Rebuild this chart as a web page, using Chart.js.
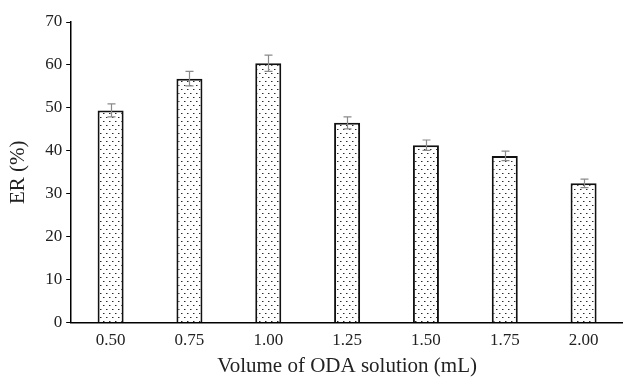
<!DOCTYPE html>
<html lang="en">
<head>
  <meta charset="UTF-8" />
  <title>ER vs ODA volume</title>
  <script src="https://cdn.jsdelivr.net/npm/chart.js"></script>
  <style>
    html, body {
      margin: 0;
      background: #fff;
    }
    #wrap {
      width: 623px;
      height: 379px;
    }
  </style>
</head>
<body>

<div id="wrap"><canvas id="erChart" width="623" height="379"></canvas></div>

<script>
  const volumes = ['0.50', '0.75', '1.00', '1.25', '1.50', '1.75', '2.00'];
  const erValues = [49.4, 56.8, 60.4, 46.5, 41.3, 38.8, 32.4];
  const erErrors = [1.5, 1.7, 1.9, 1.4, 1.2, 1.1, 1.0];
  const yTicks = [0, 10, 20, 30, 40, 50, 60, 70];

  // dotted fill like the printed figure
  function dotPattern() {
    const c = document.createElement('canvas');
    c.width = 6;
    c.height = 8;
    const g = c.getContext('2d');
    g.fillStyle = '#fff';
    g.fillRect(0, 0, 6, 8);
    g.fillStyle = '#2a2a2a';
    g.fillRect(1, 1, 1, 1);
    g.fillRect(4, 5, 1, 1);
    g.fillStyle = '#999';
    g.fillRect(2, 1, 1, 1);
    g.fillRect(5, 5, 1, 1);
    return g.createPattern(c, 'repeat');
  }

  const errorBars = {
    id: 'errorBars',
    afterDatasetsDraw(chart) {
      const ctx = chart.ctx;
      const y = chart.scales.y;
      const meta = chart.getDatasetMeta(0);
      ctx.save();
      ctx.strokeStyle = '#8a8a8a';
      ctx.lineWidth = 1.2;
      meta.data.forEach((bar, i) => {
        const x = Math.round(bar.x) + 0.5;
        const top = y.getPixelForValue(erValues[i] + erErrors[i]);
        const bot = y.getPixelForValue(erValues[i] - erErrors[i]);
        ctx.beginPath();
        ctx.moveTo(x, top);
        ctx.lineTo(x, bot);
        ctx.moveTo(x - 4, top);
        ctx.lineTo(x + 4, top);
        ctx.moveTo(x - 4, bot);
        ctx.lineTo(x + 4, bot);
        ctx.stroke();
      });
      ctx.restore();
    }
  };

  const serif = 'Liberation Serif, Times New Roman, serif';

  new Chart(document.getElementById('erChart'), {
    type: 'bar',
    data: {
      labels: volumes,
      datasets: [{
        label: 'ER',
        data: erValues,
        backgroundColor: dotPattern(),
        borderColor: '#111',
        borderWidth: 2,
        barPercentage: 0.33,
        categoryPercentage: 1
      }]
    },
    options: {
      responsive: false,
      animation: false,
      layout: { padding: { top: 22, right: 0, left: 2, bottom: 0 } },
      plugins: {
        legend: { display: false },
        tooltip: { enabled: false }
      },
      scales: {
        x: {
          grid: { display: false, drawTicks: false },
          border: { color: '#000', width: 1.5 },
          ticks: { color: '#222', font: { family: serif, size: 17 }, padding: 8 },
          title: {
            display: true,
            text: 'Volume of ODA solution (mL)',
            color: '#222',
            font: { family: serif, size: 21 },
            padding: { top: -5, bottom: 0 }
          }
        },
        y: {
          min: 0,
          max: 70,
          afterBuildTicks(scale) {
            scale.ticks = yTicks.map(v => ({ value: v }));
          },
          grid: { drawOnChartArea: false, drawTicks: true, tickLength: 5, color: '#000' },
          border: { color: '#000', width: 1.5 },
          ticks: { color: '#222', font: { family: serif, size: 17 }, padding: 4 },
          title: {
            display: true,
            text: 'ER (%)',
            color: '#222',
            font: { family: serif, size: 21 },
            padding: { top: 4, bottom: 10 }
          }
        }
      }
    },
    plugins: [errorBars]
  });
</script>

</body>
</html>
